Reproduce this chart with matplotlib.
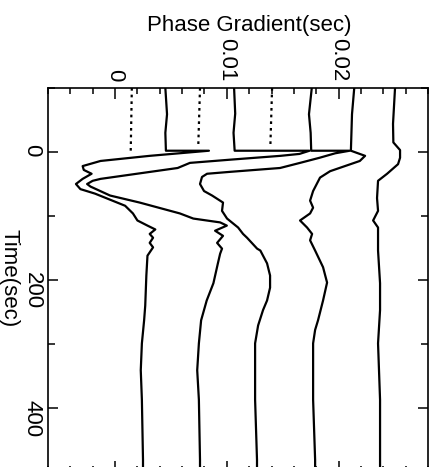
import matplotlib
matplotlib.use("Agg")
import matplotlib.pyplot as plt
import numpy as np

plt.rcParams['font.family'] = ['Liberation Sans', 'DejaVu Sans']

# curves: time (sec) and phase gradient (units of 1e-3 sec)
t1 = [-100, -59, -30, -2, -2, 6, 14, 22, 28, 34, 42, 50, 58, 65, 84, 96, 107, 115,
      121, 128, 134, 142, 149, 162, 193, 240, 263, 299, 341, 387, 481, 500]
p1 = [4.5, 4.65, 4.5, 4.55, 8.4, 3.1, -1.3, -2.9, -2.8, -2.1, -2.9, -3.5, -3.1, -1.8,
      0.9, 1.6, 2.0, 2.9, 3.6, 3.1, 3.4, 3.1, 3.4, 2.9, 2.8, 2.7, 2.6, 2.4, 2.3, 2.4,
      2.5, 2.5]

t2 = [-100, -60, -30, -2, -2, 3, 6, 12, 17, 25, 42, 45, 50, 54, 68, 79, 96, 104,
      110, 115, 123, 131, 142, 151, 159, 174, 205, 232, 263, 299, 341, 387, 481, 500]
p2 = [10.65, 10.75, 10.6, 10.7, 17.4, 16.5, 14.8, 10.3, 6.7, 5.6, -1.3, -2.0, -2.5,
      -2.2, -0.45, 2.2, 5.8, 7.0, 9.4, 10.0, 8.95, 9.66, 9.13, 9.57, 9.4, 9.2, 8.8,
      8.2, 7.7, 7.5, 7.35, 7.5, 7.6, 7.6]

t3 = [-100, -59, -30, -2, -2, 2, 9, 17, 25, 31, 34, 39, 50, 61, 68, 79, 92, 104,
      118, 128, 134, 151, 154, 174, 193, 212, 232, 247, 271, 299, 387, 481, 500]
p3 = [17.6, 17.35, 17.5, 17.55, 21.0, 19.7, 18.3, 16.55, 14.76, 10.3, 8.23, 7.78,
      7.6, 7.96, 8.68, 9.66, 9.57, 10.02, 11.01, 11.45, 11.81, 12.71, 13.0, 13.6,
      13.87, 13.87, 13.6, 13.24, 12.8, 12.53, 12.53, 12.7, 12.7]

t4 = [-100, -59, -30, -2, 6, 14, 30, 40, 61, 76, 87, 96, 107, 118, 128, 138, 154,
      180, 204, 232, 263, 278, 299, 387, 481, 500]
p4 = [21.4, 21.2, 21.15, 21.1, 22.37, 21.9, 19.24, 18.34, 17.72, 17.45, 17.72,
      17.45, 16.55, 17.18, 17.63, 17.45, 17.9, 18.61, 18.97, 18.61, 18.16, 17.9,
      17.72, 17.72, 17.9, 17.9]

t5 = [-100, -44, -15, -3, 9, 19, 34, 45, 72, 92, 107, 118, 154, 205, 247, 299, 387,
      481, 500]
p5 = [25.05, 24.87, 24.9, 25.5, 25.5, 25.32, 24.34, 23.53, 23.44, 23.53, 23.09,
      23.53, 23.53, 23.71, 23.71, 23.53, 23.71, 23.71, 23.71]

# dotted pre-event levels
dot_t = [[-100, 0], [-100, -12], [-100, -12]]
dot_p = [[1.5, 1.4], [7.6, 7.45], [14.05, 13.9]]

fig = plt.figure(figsize=(4.37, 4.67), dpi=100)
ax = fig.add_axes([48 / 437, -5 / 467, 380 / 437, 384 / 467])

for t, p in [(t1, p1), (t2, p2), (t3, p3), (t4, p4), (t5, p5)]:
    ax.plot(np.array(p) * 1e-3, t, color='black', lw=1.6)

for t, p in zip(dot_t, dot_p):
    ax.plot(np.array(p) * 1e-3, t, color='black', lw=1.6, dashes=(1.2, 1.8))

ax.set_xlim(-0.006, 0.028)
ax.set_ylim(500, -100)

ax.set_xticks([0, 0.01, 0.02])
ax.set_xticklabels(['0', '0.01', '0.02'])
ax.set_xticks(np.arange(-0.006, 0.0281, 0.002), minor=True)
ax.set_yticks([0, 200, 400])
ax.set_yticks([-100, 100, 300, 500], minor=True)

ax.tick_params(axis='both', which='both', direction='in', top=True, right=True,
               width=1.1, labelsize=16)
ax.tick_params(axis='x', which='both', labeltop=True, labelbottom=False,
               labelrotation=-90, pad=5)
ax.tick_params(axis='y', which='both', labelrotation=-90, pad=4)
ax.tick_params(axis='x', which='major', length=8)
ax.tick_params(axis='x', which='minor', length=4)
ax.tick_params(axis='y', which='major', length=7)
ax.tick_params(axis='y', which='minor', length=5)

for s in ax.spines.values():
    s.set_linewidth(1.2)

fig.text(249 / 437, 1 - 31 / 467, 'Phase Gradient(sec)', fontsize=16,
         ha='center', va='baseline')
fig.text(9 / 437, 1 - 278 / 467, 'Time(sec)', fontsize=16, rotation=-90,
         ha='center', va='center')

fig.savefig('out.png', dpi=100)
